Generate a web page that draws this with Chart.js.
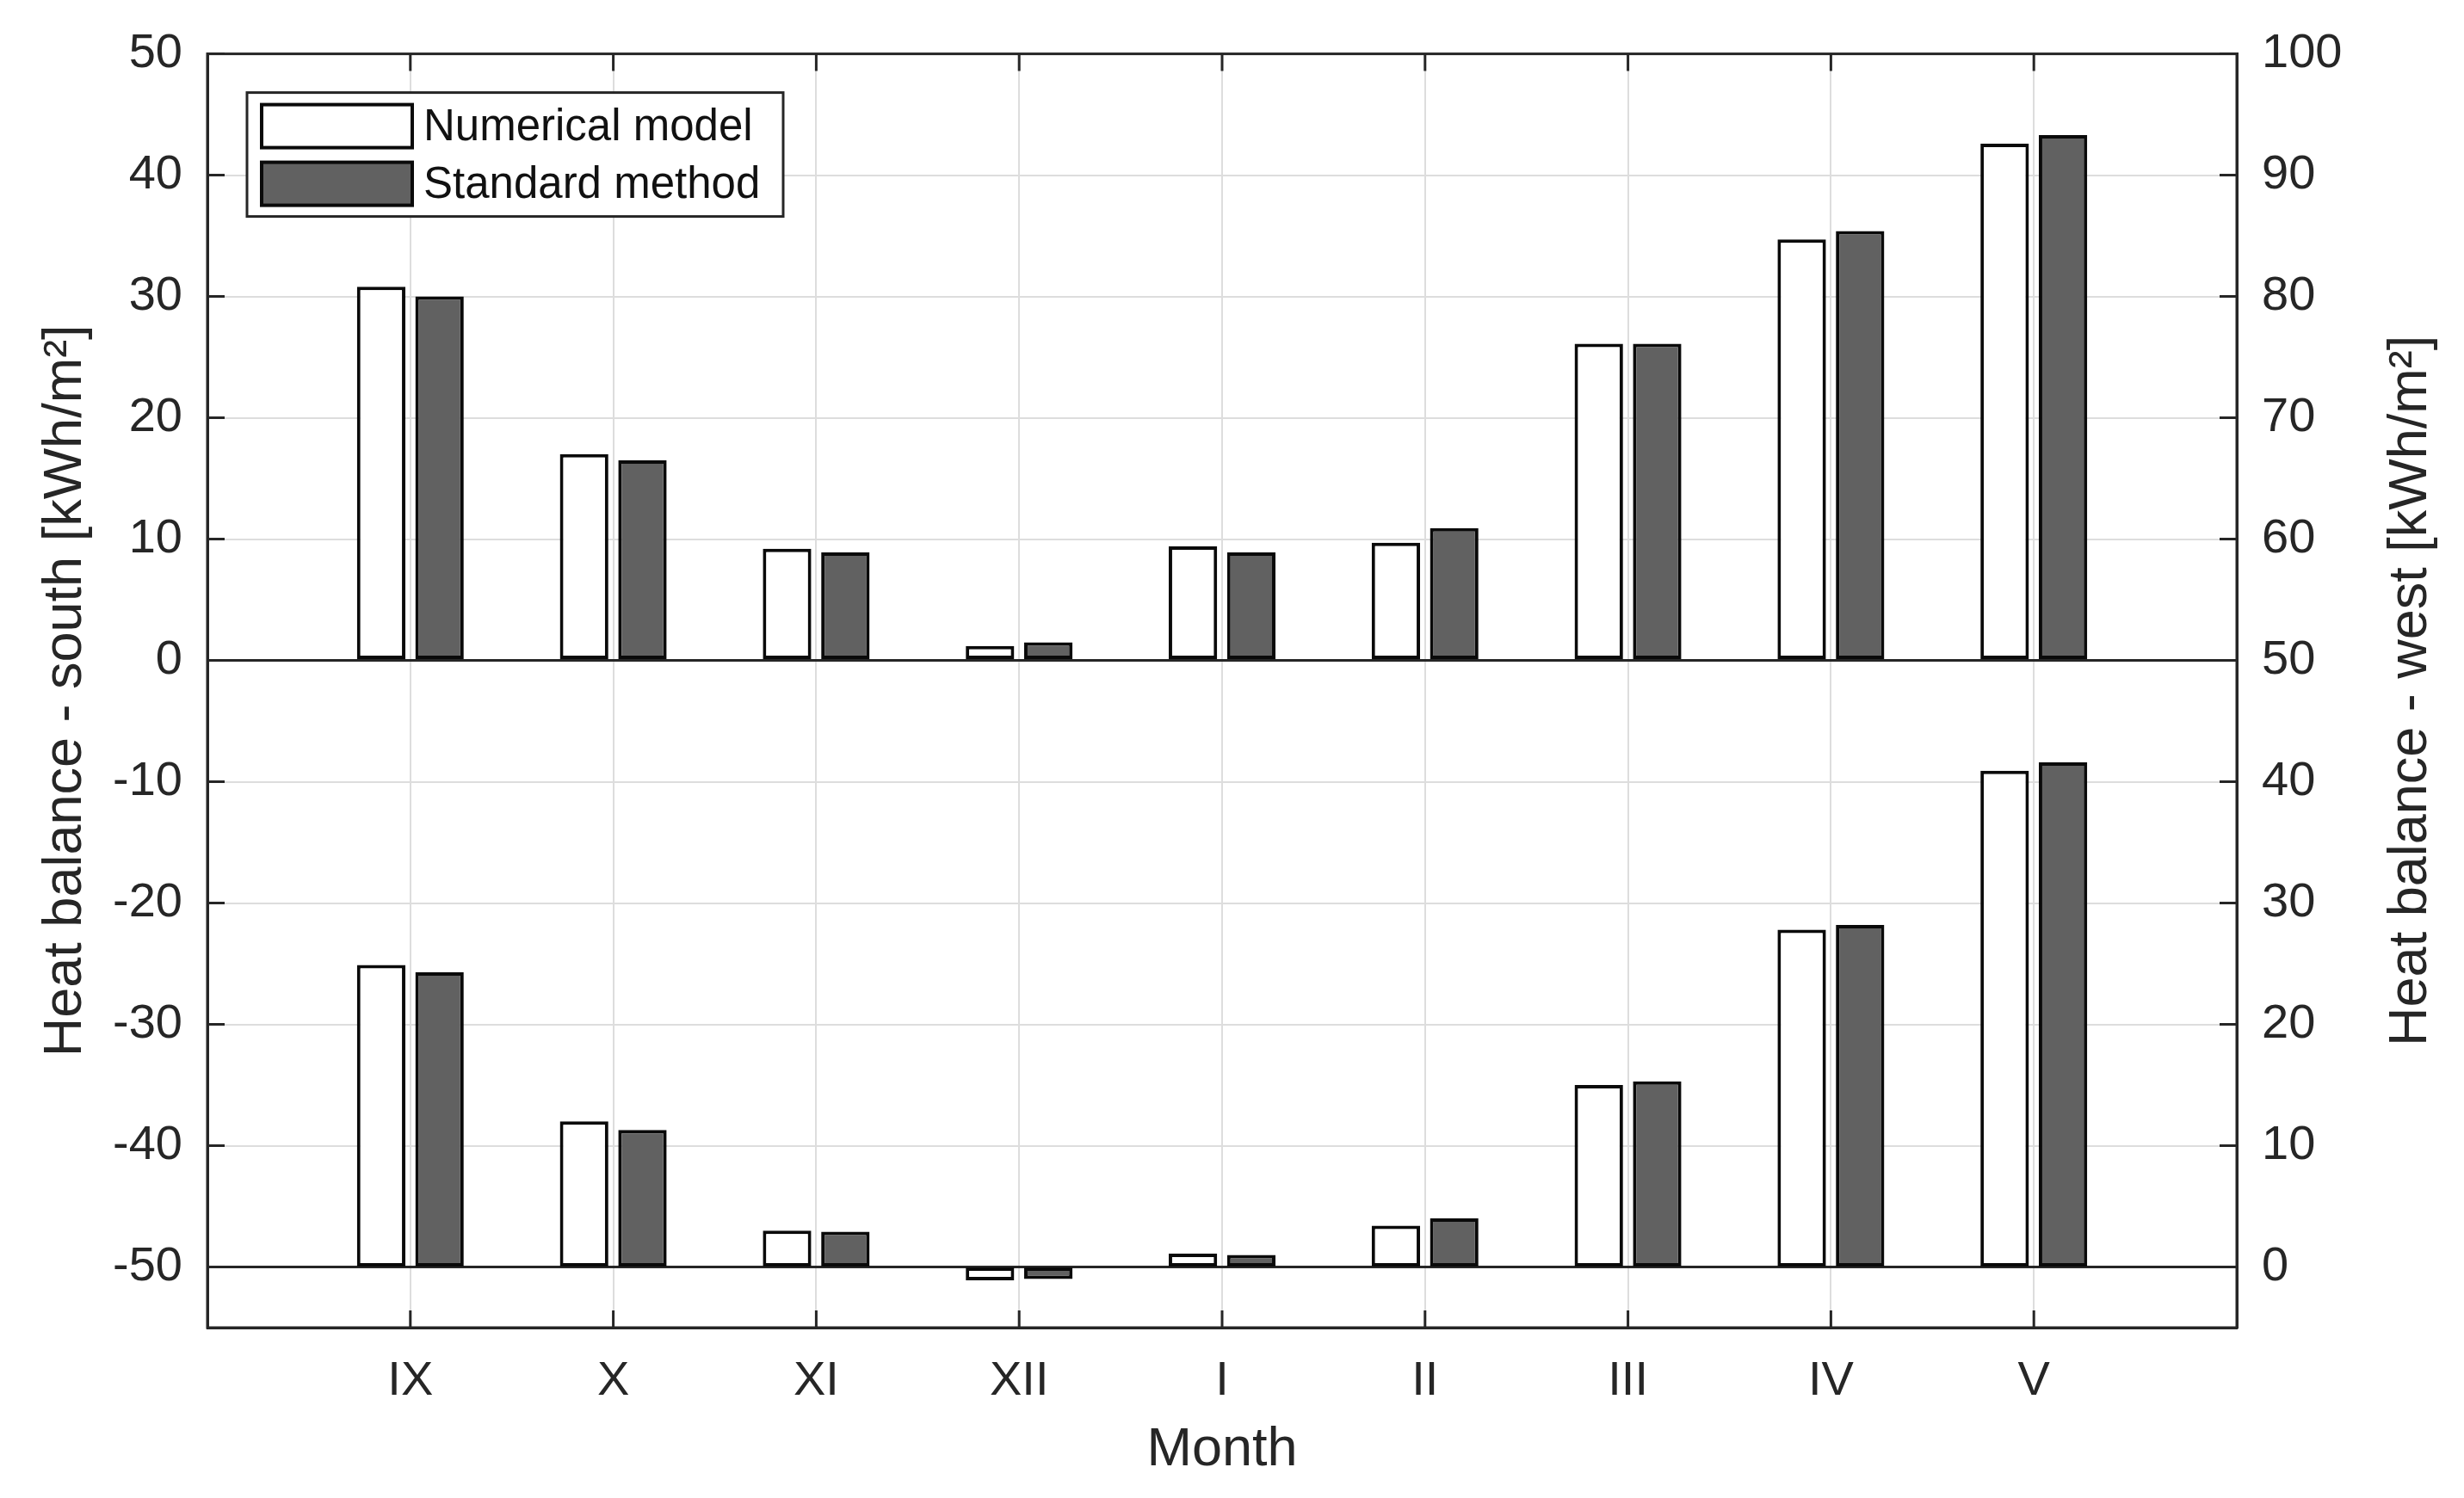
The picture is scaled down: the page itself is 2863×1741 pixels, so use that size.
<!DOCTYPE html>
<html>
<head>
<meta charset="utf-8">
<script src="https://cdn.jsdelivr.net/npm/chart.js@4/dist/chart.umd.min.js"></script>
<style>
  html, body { margin: 0; padding: 0; background: #ffffff; }
  #wrap { width: 2863px; height: 1741px; position: relative; }
</style>
</head>
<body>
<div id="wrap"><canvas id="c"></canvas></div>
<script>
// ---- data ----
const months = ['IX', 'X', 'XI', 'XII', 'I', 'II', 'III', 'IV', 'V'];
const monthPositions = [1, 2, 3, 4, 5, 6, 7, 8, 9];
const southNumerical = [30.8, 17.0, 9.2, 1.2, 9.4, 9.7, 26.1, 34.7, 42.6];
const southStandard  = [30.0, 16.5, 8.9, 1.5, 8.9, 10.9, 26.1, 35.4, 43.3];
const westNumerical  = [24.9, 12.0, 3.0, -1.1, 1.1, 3.4, 15.0, 27.8, 40.9];
const westStandard   = [24.3, 11.3, 2.9, -1.0, 1.0, 4.0, 15.3, 28.2, 41.6];
const leftTicks  = [-50, -40, -30, -20, -10, 0, 10, 20, 30, 40, 50];
const rightTicks = [0, 10, 20, 30, 40, 50, 60, 70, 80, 90, 100];
const seriesNames = ['Numerical model', 'Standard method'];
const leftTitle = 'Heat balance - south [kWh/m\u00B2]';
const rightTitle = 'Heat balance - west [kWh/m\u00B2]';
const xTitle = 'Month';

// ---- styles ----
const FONT = "'Liberation Sans', Arial, Helvetica, sans-serif";
const AXIS = '#262626';
const GRID = '#dddddd';
const WHITE_FILL = '#ffffff';
const DARK_FILL = '#616161';
const BAR_EDGE = '#0a0a0a';

const pts = (vals) => vals.map((v, i) => ({ x: monthPositions[i], y: v }));

const barStyle = (fill) => ({
  backgroundColor: fill,
  borderColor: BAR_EDGE,
  borderWidth: 4,
  borderSkipped: false,
  categoryPercentage: 0.575,
  barPercentage: 0.83
});

const datasets = [
  Object.assign({ label: seriesNames[0], data: pts(southNumerical), yAxisID: 'y',  stack: 'num' }, barStyle(WHITE_FILL)),
  Object.assign({ label: seriesNames[1], data: pts(southStandard),  yAxisID: 'y',  stack: 'std' }, barStyle(DARK_FILL)),
  Object.assign({ label: seriesNames[0], data: pts(westNumerical),  yAxisID: 'y2', stack: 'num' }, barStyle(WHITE_FILL)),
  Object.assign({ label: seriesNames[1], data: pts(westStandard),   yAxisID: 'y2', stack: 'std' }, barStyle(DARK_FILL))
];

// frame, inward ticks, legend box and right-hand title
const decor = {
  id: 'decor',
  afterDraw(chart) {
    const ctx = chart.ctx;
    const a = chart.chartArea;
    const sx = chart.scales.x, sy = chart.scales.y, sy2 = chart.scales.y2;
    const TL = 20;
    ctx.save();
    ctx.strokeStyle = AXIS;
    ctx.lineWidth = 3;
    // frame
    ctx.strokeRect(a.left, a.top, a.right - a.left, a.bottom - a.top);
    // inward tick marks
    ctx.beginPath();
    leftTicks.forEach(v => {
      const y = sy.getPixelForValue(v);
      ctx.moveTo(a.left, y); ctx.lineTo(a.left + TL, y);
    });
    rightTicks.forEach(v => {
      const y = sy2.getPixelForValue(v);
      ctx.moveTo(a.right, y); ctx.lineTo(a.right - TL, y);
    });
    monthPositions.forEach(v => {
      const x = sx.getPixelForValue(v);
      ctx.moveTo(x, a.bottom); ctx.lineTo(x, a.bottom - TL);
      ctx.moveTo(x, a.top); ctx.lineTo(x, a.top + TL);
    });
    ctx.stroke();

    // legend
    const lx = a.left + 46, ly = a.top + 45, lw = 623, lh = 144;
    ctx.fillStyle = '#ffffff';
    ctx.fillRect(lx, ly, lw, lh);
    ctx.lineWidth = 3;
    ctx.strokeStyle = AXIS;
    ctx.strokeRect(lx, ly, lw, lh);
    const fills = [WHITE_FILL, DARK_FILL];
    const rowsY = [ly + 14, ly + 81];
    ctx.font = '51px ' + FONT;
    ctx.textBaseline = 'middle';
    ctx.textAlign = 'left';
    for (let i = 0; i < 2; i++) {
      ctx.fillStyle = fills[i];
      ctx.fillRect(lx + 17, rowsY[i], 175, 50);
      ctx.strokeStyle = BAR_EDGE;
      ctx.lineWidth = 4;
      ctx.strokeRect(lx + 17, rowsY[i], 175, 50);
      ctx.fillStyle = '#111111';
      ctx.fillText(seriesNames[i], lx + 205, rowsY[i] + 27);
    }

    // right title, reading bottom-to-top like the left one
    ctx.font = '63px ' + FONT;
    ctx.fillStyle = AXIS;
    ctx.translate(2802, (a.top + a.bottom) / 2);
    ctx.rotate(-Math.PI / 2);
    ctx.textAlign = 'center';
    ctx.textBaseline = 'middle';
    ctx.fillText(rightTitle, 0, 0);
    ctx.restore();
  }
};

new Chart(document.getElementById('c'), {
  type: 'bar',
  data: { datasets },
  options: {
    responsive: true,
    maintainAspectRatio: false,
    animation: false,
    devicePixelRatio: 1,
    layout: { padding: { top: 56, left: 0, right: 0, bottom: 0 } },
    plugins: { legend: { display: false }, tooltip: { enabled: false } },
    scales: {
      x: {
        type: 'linear',
        min: 0, max: 10,
        offset: false,
        afterBuildTicks: (s) => { s.ticks = monthPositions.map(v => ({ value: v })); },
        afterFit: (s) => { s.height = 198; },
        grid: { offset: false, color: GRID, lineWidth: 2, drawTicks: false },
        border: { display: true, color: AXIS, width: 3 },
        ticks: {
          padding: 29,
          color: AXIS,
          font: { family: FONT, size: 56 },
          maxRotation: 0,
          autoSkip: false,
          callback: (v) => months[monthPositions.indexOf(v)] || ''
        },
        title: {
          display: true, text: xTitle, color: AXIS,
          font: { family: FONT, size: 63 },
          padding: { top: 0, bottom: 18 }
        }
      },
      y: {
        type: 'linear',
        position: 'left',
        min: -55, max: 50,
        stacked: false,
        afterBuildTicks: (s) => { s.ticks = leftTicks.map(v => ({ value: v })); },
        afterFit: (s) => { s.width = 241; },
        grid: {
          color: (c) => (c.tick && (c.tick.value === 0 || c.tick.value === -50)) ? AXIS : GRID,
          lineWidth: (c) => (c.tick && (c.tick.value === 0 || c.tick.value === -50)) ? 3 : 2,
          drawTicks: false
        },
        border: { display: true, color: AXIS, width: 3 },
        ticks: {
          padding: 29, color: AXIS,
          font: { family: FONT, size: 56 },
          callback: (v) => String(v)
        },
        title: {
          display: true, text: leftTitle, color: AXIS,
          font: { family: FONT, size: 63 },
          padding: { top: 39, bottom: 0 }
        }
      },
      y2: {
        type: 'linear',
        position: 'right',
        min: -5, max: 100,
        stacked: false,
        afterBuildTicks: (s) => { s.ticks = rightTicks.map(v => ({ value: v })); },
        afterFit: (s) => { s.width = 264; },
        grid: { drawOnChartArea: false, drawTicks: false },
        border: { display: true, color: AXIS, width: 3 },
        ticks: {
          padding: 29, color: AXIS,
          font: { family: FONT, size: 56 },
          callback: (v) => String(v)
        }
      }
    }
  },
  plugins: [decor]
});
</script>
</body>
</html>
